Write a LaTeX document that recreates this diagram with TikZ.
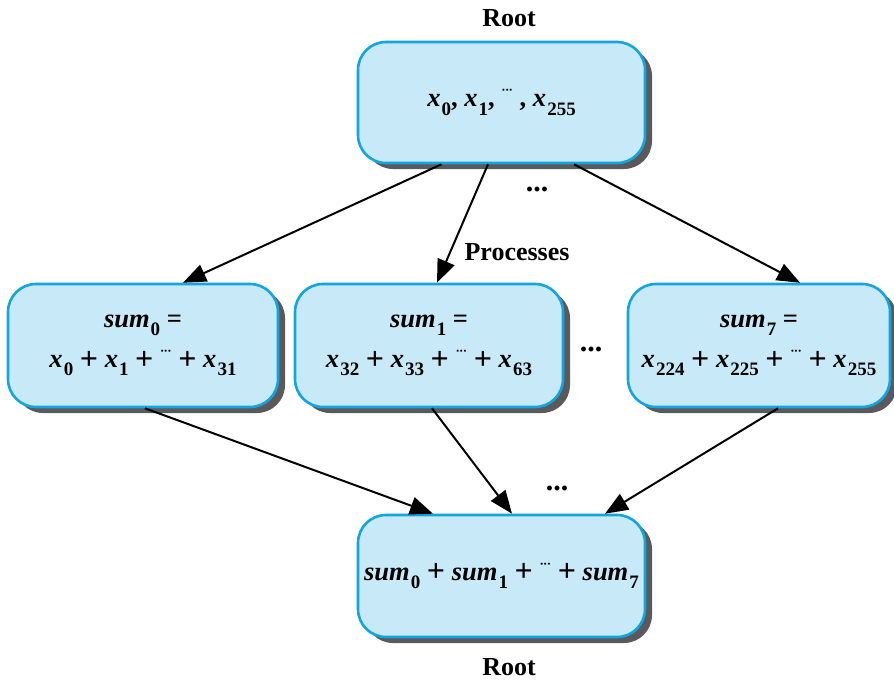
\documentclass[tikz,border=0pt]{standalone}
\usepackage{fontspec}
\setmainfont{Liberation Serif}
\usetikzlibrary{arrows.meta,shadows}
\definecolor{boxfill}{HTML}{C8E9F8}
\definecolor{boxline}{HTML}{12A5E2}
\definecolor{shadowgray}{HTML}{5A5A5C}
\newcommand\sbx[1]{\raisebox{-0.32em}{\fontsize{19}{19}\selectfont #1}}
\newcommand\vx[1]{\textit{x}\kern0.04em\sbx{#1}}
\newcommand\vsum[1]{\textit{sum}\kern0.04em\sbx{#1}}
\newcommand\pls{\raisebox{-0.06em}{\fontsize{32}{32}\selectfont +}}
\newcommand\cdts{\raisebox{0.45em}{\fontsize{13}{13}\selectfont\textperiodcentered\kern-0.05em\textperiodcentered\kern-0.05em\textperiodcentered}}
\tikzset{
  procbox/.style={rectangle, rounded corners=28pt, draw=boxline, line width=2.6pt,
    fill=boxfill, align=center, font=\fontsize{26.5}{40}\selectfont\bfseries,
    drop shadow={shadow xshift=7pt, shadow yshift=-6pt, fill=shadowgray, opacity=1},
    inner sep=0pt},
  lbl/.style={font=\fontsize{26}{30}\selectfont\bfseries},
  conn/.style={line width=2pt, -{Triangle[length=23pt,width=18pt]}}
}
\begin{document}
\begin{tikzpicture}[x=1pt,y=-1pt]
\useasboundingbox (0,0) rectangle (894,682);
\node[procbox, minimum width=287pt, minimum height=121pt] (top) at (501.5,102.5) {\raisebox{-0.15em}{\vx{0}, \vx{1}, \cdts\ , \vx{255}}};
\node[procbox, minimum width=270pt, minimum height=123pt] (left) at (143,345.5) {\vsum{0} =\\ \vx{0} \pls\ \vx{1} \pls\ \cdts\ \pls\ \vx{31}};
\node[procbox, minimum width=268pt, minimum height=123pt] (mid) at (429,345.5) {\vsum{1} =\\ \vx{32} \pls\ \vx{33} \pls\ \cdts\ \pls\ \vx{63}};
\node[procbox, minimum width=262pt, minimum height=123pt] (right) at (759,345.5) {\vsum{7} =\\ \vx{224} \pls\ \vx{225} \pls\ \cdts\ \pls\ \vx{255}};
\node[procbox, minimum width=287pt, minimum height=122pt] (bot) at (501.5,576) {\vsum{0} \pls\ \vsum{1} \pls\ \cdts\ \pls\ \vsum{7}};
\node[lbl] (roottop) at (509,18) {Root};
\node[lbl] (rootbot) at (509,667) {Root};
\node[lbl] (proc) at (517,252) {Processes};
\node[lbl, font=\fontsize{30}{30}\selectfont\bfseries] (d1) at (537,189) {...};
\node[lbl, font=\fontsize{30}{30}\selectfont\bfseries] (d2) at (591,349) {...};
\node[lbl, font=\fontsize{30}{30}\selectfont\bfseries] (d3) at (557,488) {...};
\draw[conn] ([xshift=-60pt]top.south) -- ([xshift=40pt]left.north);
\draw[conn] ([xshift=-13.5pt]top.south) -- ([xshift=8pt]mid.north);
\draw[conn] ([xshift=72.5pt]top.south) -- ([xshift=41pt]right.north);
\draw[conn] ([xshift=2pt]left.south) -- ([xshift=-68.5pt]bot.north);
\draw[conn] ([xshift=3pt]mid.south) -- ([xshift=10.5pt]bot.north);
\draw[conn] ([xshift=19pt]right.south) -- ([xshift=103.5pt]bot.north);
\end{tikzpicture}
\end{document}
